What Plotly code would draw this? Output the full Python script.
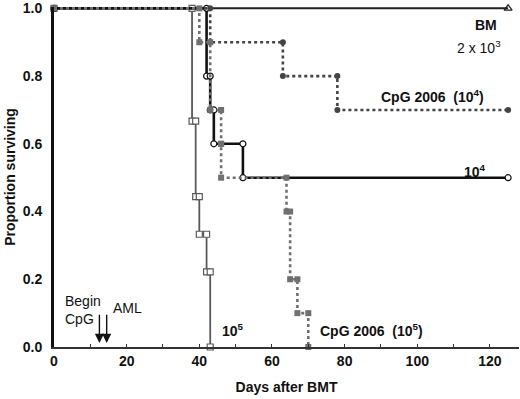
import plotly.graph_objects as go

# ---- data ----
bm_end = 125
# 10^5 AML, no CpG (open squares)
aml5_times = [38, 39, 40, 42, 43]
aml5_surv = [0.667, 0.444, 0.333, 0.222, 0.0]
# 10^4 AML, no CpG (open circles)
aml4_times = [42, 43, 44, 52]
aml4_surv = [0.8, 0.7, 0.6, 0.5]
aml4_end = 125
# CpG 2006 (10^4) (filled circles)
cpg4_times = [43, 63, 78]
cpg4_surv = [0.9, 0.8, 0.7]
cpg4_end = 125
# CpG 2006 (10^5) (filled squares)
cpg5_times = [40, 43, 46, 46, 64, 65, 67, 70]
cpg5_surv = [0.9, 0.7, 0.6, 0.5, 0.4, 0.2, 0.1, 0.0]

x_ticks = [0, 20, 40, 60, 80, 100, 120]
y_ticks = [0.0, 0.2, 0.4, 0.6, 0.8, 1.0]


def steps(times, surv, end=None):
    xs, ys = [0], [1.0]
    prev = 1.0
    for t, s in zip(times, surv):
        xs += [t, t]
        ys += [prev, s]
        prev = s
    if end is not None:
        xs.append(end)
        ys.append(prev)
    return xs, ys


FONT = "Liberation Sans, Arial, sans-serif"
fig = go.Figure()

# BM line
fig.add_trace(go.Scatter(x=[0, bm_end], y=[1.0, 1.0], mode="lines",
                         line=dict(color="#222", width=2), cliponaxis=False,
                         showlegend=False))
fig.add_trace(go.Scatter(x=[bm_end], y=[1.0], mode="markers",
                         marker=dict(symbol="triangle-up-open", size=7, color="#222",
                                     line=dict(width=1.2)),
                         cliponaxis=False, showlegend=False))

x, y = steps(aml5_times, aml5_surv)
fig.add_trace(go.Scatter(x=x, y=y, mode="lines+markers", cliponaxis=False,
                         line=dict(color="#5a5a5a", width=1.8),
                         marker=dict(symbol="square", size=6, color="white",
                                     line=dict(color="#5a5a5a", width=1.2)),
                         showlegend=False))

x, y = steps(aml4_times, aml4_surv, aml4_end)
fig.add_trace(go.Scatter(x=x, y=y, mode="lines+markers", cliponaxis=False,
                         line=dict(color="#111", width=2.6),
                         marker=dict(symbol="circle", size=6, color="white",
                                     line=dict(color="#111", width=1.2)),
                         showlegend=False))

x, y = steps(cpg4_times, cpg4_surv, cpg4_end)
fig.add_trace(go.Scatter(x=x, y=y, mode="lines+markers", cliponaxis=False,
                         line=dict(color="#444", width=2.6, dash="dot"),
                         marker=dict(symbol="circle", size=6, color="#444"),
                         showlegend=False))

x, y = steps(cpg5_times, cpg5_surv)
fig.add_trace(go.Scatter(x=x, y=y, mode="lines+markers", cliponaxis=False,
                         line=dict(color="#707070", width=2.6, dash="dot"),
                         marker=dict(symbol="square", size=6, color="#707070"),
                         showlegend=False))

bold = dict(family=FONT, size=14, color="#111")
reg = dict(family=FONT, size=14, color="#111")
annos = [
    dict(x=122.5, y=0.95, text="<b>BM</b>", xanchor="right", font=bold),
    dict(x=123.5, y=0.885, text="2 x 10<sup>3</sup>", xanchor="right", font=reg),
    dict(x=119, y=0.74, text="<b>CpG 2006  (10<sup>4</sup>)</b>", xanchor="right", font=bold),
    dict(x=119.5, y=0.52, text="<b>10<sup>4</sup></b>", xanchor="right", font=bold),
    dict(x=49.3, y=0.05, text="<b>10<sup>5</sup></b>", xanchor="center", font=bold),
    dict(x=87.3, y=0.05, text="<b>CpG 2006  (10<sup>5</sup>)</b>", xanchor="center", font=bold),
    dict(x=2.5, y=0.11, text="Begin<br>CpG", xanchor="left", align="left", font=reg),
    dict(x=15.8, y=0.115, text="AML", xanchor="left", font=reg),
]
for a in annos:
    a.update(xref="x", yref="y", showarrow=False)
    fig.add_annotation(**a)

for xa in (12.5, 14.5):
    fig.add_annotation(x=xa, y=0.012, ax=xa, ay=0.1, xref="x", yref="y",
                       axref="x", ayref="y", showarrow=True, arrowhead=2,
                       arrowsize=1.3, arrowwidth=1.4, arrowcolor="#111", text="")

fig.update_layout(
    width=520, height=399,
    margin=dict(l=54, r=1, t=7, b=52),
    paper_bgcolor="white", plot_bgcolor="white",
    font=dict(family=FONT, color="#111"),
)
fig.update_xaxes(range=[0, 128], tickvals=x_ticks, automargin=False,
                 ticktext=["<b>%d</b>" % v for v in x_ticks],
                 tickfont=dict(family=FONT, size=14, color="#111"),
                 showline=True, linecolor="#333", linewidth=2, showgrid=False,
                 zeroline=False, ticks="inside", ticklen=3, tickcolor="#333",
                 minor=dict(tickvals=[10, 30, 50, 70, 90, 110], ticks="inside",
                            ticklen=3, tickcolor="#333"),
                 title=dict(text="<b>Days after BMT</b>", font=dict(family=FONT, size=14),
                            standoff=14))
fig.update_yaxes(range=[0, 1.004], tickvals=y_ticks, automargin=False,
                 ticktext=["<b>%.1f</b>" % v for v in y_ticks],
                 tickfont=dict(family=FONT, size=14, color="#111"),
                 showline=True, linecolor="#111", linewidth=3, showgrid=False,
                 zeroline=False, ticks="", ticklabelstandoff=6,
                 title=dict(text="<b>Proportion surviving</b>", font=dict(family=FONT, size=14),
                            standoff=4))

fig.write_html("out.html", config={"displayModeBar": False},
               post_script="document.body.style.margin='0';")
